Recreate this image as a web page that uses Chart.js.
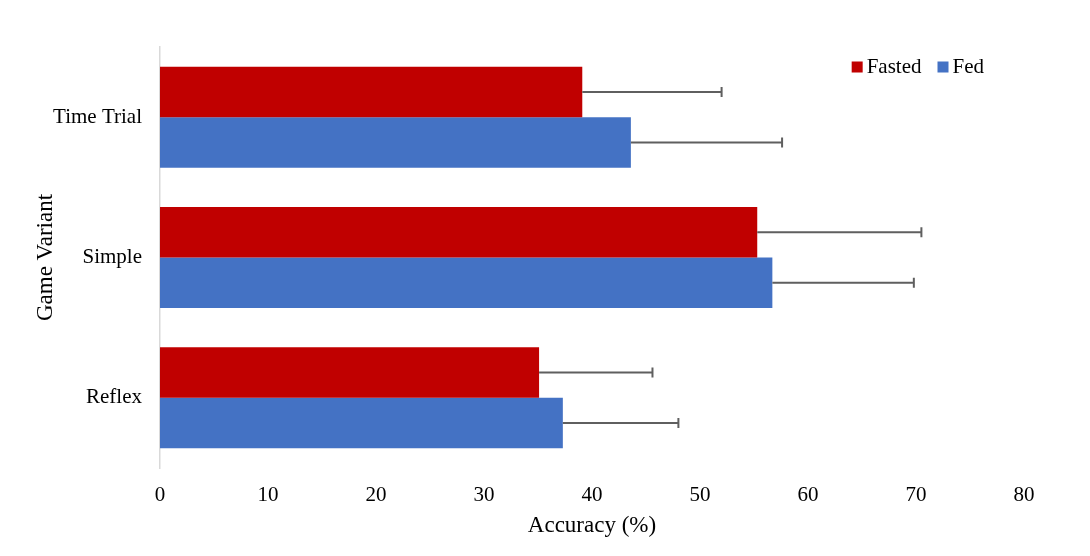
<!DOCTYPE html>
<html>
<head>
<meta charset="utf-8">
<script src="https://cdn.jsdelivr.net/npm/chart.js@4"></script>
<style>
  html, body { margin: 0; padding: 0; background: #fff; }
  #wrap { width: 1090px; height: 556px; }
</style>
</head>
<body>
<div id="wrap"><canvas id="chart"></canvas></div>
<script>
const categories = ["Time Trial", "Simple", "Reflex"];
const seriesNames = ["Fasted", "Fed"];
const fastedValues = [39.1, 55.3, 35.1];
const fedValues = [43.6, 56.7, 37.3];
const fastedErrors = [12.9, 15.2, 10.5];
const fedErrors = [14.0, 13.1, 10.7];
const xTicks = [0, 10, 20, 30, 40, 50, 60, 70, 80];

const FONT = "'Liberation Serif', 'Times New Roman', serif";

// one-sided error bars drawn from the bar end
const errorBars = {
  id: "errorBars",
  afterDatasetsDraw(chart) {
    const ctx = chart.ctx;
    const xScale = chart.scales.x;
    ctx.save();
    ctx.strokeStyle = "#5f5f5f";
    ctx.lineWidth = 2;
    chart.data.datasets.forEach((ds, i) => {
      const meta = chart.getDatasetMeta(i);
      meta.data.forEach((bar, j) => {
        const x0 = xScale.getPixelForValue(ds.data[j]);
        const x1 = xScale.getPixelForValue(ds.data[j] + ds.errors[j]);
        const y = bar.y;
        ctx.beginPath();
        ctx.moveTo(x0, y);
        ctx.lineTo(x1, y);
        ctx.moveTo(x1, y - 5);
        ctx.lineTo(x1, y + 5);
        ctx.stroke();
      });
    });
    ctx.restore();
  }
};

// legend inside the plot, top right
const innerLegend = {
  id: "innerLegend",
  afterDraw(chart) {
    const ctx = chart.ctx;
    ctx.save();
    ctx.font = "21px " + FONT;
    ctx.textBaseline = "middle";
    const box = 11, gap = 4, spacing = 16;
    const items = chart.data.datasets.map(ds => ({
      label: ds.label, color: ds.backgroundColor, w: ctx.measureText(ds.label).width
    }));
    let total = items.reduce((s, it) => s + box + gap + it.w, 0) + spacing * (items.length - 1);
    let x = 984 - total;
    const y = 67;
    items.forEach(it => {
      ctx.fillStyle = it.color;
      ctx.fillRect(x, y - box / 2, box, box);
      x += box + gap;
      ctx.fillStyle = "#000";
      ctx.fillText(it.label, x, y);
      x += it.w + spacing;
    });
    ctx.restore();
  }
};

new Chart(document.getElementById("chart"), {
  type: "bar",
  data: {
    labels: categories,
    datasets: [
      { label: seriesNames[0], data: fastedValues, errors: fastedErrors, backgroundColor: "#C00000" },
      { label: seriesNames[1], data: fedValues, errors: fedErrors, backgroundColor: "#4472C4" }
    ]
  },
  options: {
    indexAxis: "y",
    responsive: true,
    maintainAspectRatio: false,
    animation: false,
    layout: { padding: { top: 47, right: 66, left: 0, bottom: 0 } },
    datasets: { bar: { categoryPercentage: 0.72, barPercentage: 1.0 } },
    plugins: { legend: { display: false }, tooltip: { enabled: false } },
    scales: {
      x: {
        min: 0, max: 80,
        afterBuildTicks: s => { s.ticks = xTicks.map(v => ({ value: v })); },
        afterFit: s => { s.height = 88; },
        grid: { display: false, drawTicks: false },
        border: { display: false },
        ticks: { color: "#000", padding: 15, font: { family: FONT, size: 21 } },
        title: { display: true, text: "Accuracy (%)", color: "#000", font: { family: FONT, size: 23 }, padding: { top: 4, bottom: 16 } }
      },
      y: {
        afterFit: s => { s.width = 160; },
        grid: { display: false, drawTicks: false },
        border: { display: true, color: "#d9d9d9", width: 1.5 },
        ticks: { color: "#000", padding: 18, font: { family: FONT, size: 21 } },
        title: { display: true, text: "Game Variant", color: "#000", font: { family: FONT, size: 23 }, padding: { top: 32, bottom: 4 } }
      }
    }
  },
  plugins: [errorBars, innerLegend]
});
</script>
</body>
</html>
